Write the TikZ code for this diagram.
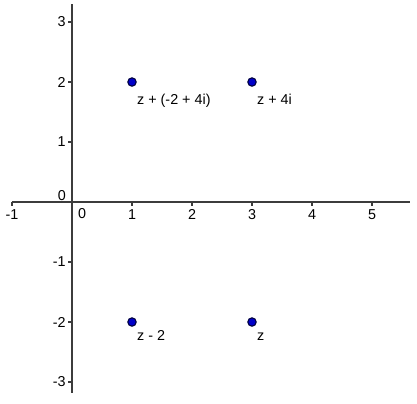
\documentclass[tikz,border=0pt]{standalone}
\usepackage{fontspec}
\setmainfont{Liberation Sans}
\usetikzlibrary{positioning}
\definecolor{axisgray}{HTML}{3C3C3C}
\definecolor{ptblue}{HTML}{0000C8}
\definecolor{ptedge}{HTML}{00003C}
\newcommand{\cpoint}[5]{%
  \node[circle, draw=ptedge, fill=ptblue, line width=0.5pt,
        minimum size=0.14cm, inner sep=0pt] (#1) at (#2,#3) {};
  \node[anchor=base west, inner sep=0pt] (#1lab)
        at ([shift={(0.08,-#5)}]#1.center) {#4};}

\begin{document}
\begin{tikzpicture}[font=\fontsize{6.8pt}{8pt}\selectfont]
      \useasboundingbox (-1.2,-3.35) rectangle (5.75,3.367);
      % axes
      \coordinate (xmin) at (-1,0);
      \coordinate (xmax) at (5.63,0);
      \coordinate (ymin) at (0,-3.18);
      \coordinate (ymax) at (0,3.3);
      \draw[axisgray, line width=0.75pt] (xmin) -- (xmax);
      \draw[axisgray, line width=0.75pt] (ymin) -- (ymax);
      \foreach \x/\t in {-1/-1,1/1,2/2,3/3,4/4,5/5} {
        \draw[axisgray, line width=0.6pt] (\x,0) -- (\x,-0.07);
        \node[anchor=north, inner sep=0pt] (xl\x) at (\x,-0.12) {\t};}
      \foreach \y/\t in {-3/-3,-2/-2,-1/-1,1/1,2/2,3/3} {
        \draw[axisgray, line width=0.6pt] (0,\y) -- (-0.07,\y);
        \node[anchor=east, inner sep=0pt] (yl\y) at (-0.1,\y) {\t};}
      \node[inner sep=0pt] (orig0) at (-0.17,0.11) {0};
      \node[inner sep=0pt] (xl0) at (0.17,-0.2) {0};
      % points
      \cpoint{zsum}{1}{2}{z + (-2 + 4i)}{0.38}
      \cpoint{zfour}{3}{2}{z + 4i}{0.38}
      \cpoint{zmin}{1}{-2}{z - 2}{0.3}
      \cpoint{z}{3}{-2}{z}{0.3}
    \end{tikzpicture}
\end{document}
